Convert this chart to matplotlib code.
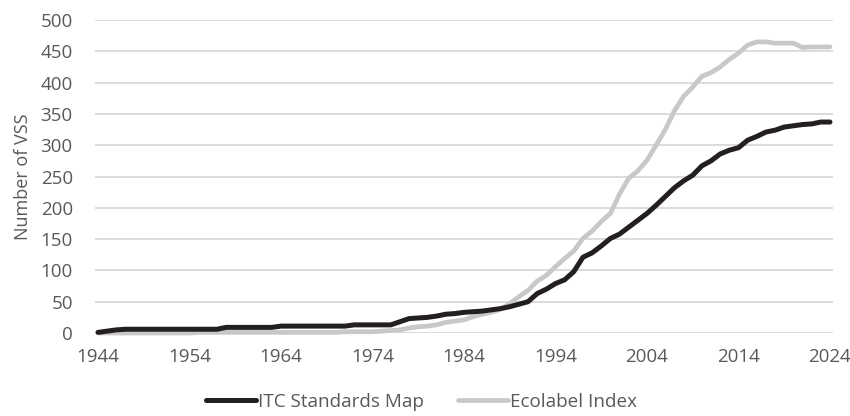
import matplotlib.pyplot as plt
import numpy as np

years = np.arange(1944, 2025)

itc = [1, 3, 5, 6, 6, 6, 6, 6, 6, 6,
       6, 6, 6, 6, 9, 9, 9, 9, 9, 9,
       11, 11, 11, 11, 11, 11, 11, 11, 13, 13,
       13, 13, 13, 18, 23, 24, 25, 27, 30, 31,
       33, 34, 35, 37, 39, 42, 46, 50, 63, 70,
       79, 85, 98, 121, 128, 139, 151, 158, 169, 180,
       191, 204, 218, 232, 243, 252, 267, 275, 286, 292,
       296, 308, 314, 321, 324, 329, 331, 333, 334, 337,
       337]

ecolabel = [0, 0, 0, 0, 0, 0, 0, 0, 0, 0,
            0, 1, 1, 1, 1, 1, 1, 1, 1, 1,
            1, 1, 1, 1, 1, 1, 1, 2, 2, 2,
            2, 3, 4, 5, 8, 10, 11, 13, 17, 19,
            21, 26, 30, 33, 38, 47, 58, 68, 83, 92,
            106, 119, 131, 151, 163, 178, 191, 222, 247, 259,
            276, 300, 325, 355, 378, 393, 410, 416, 425, 437,
            447, 460, 465, 465, 463, 463, 463, 456, 457, 457,
            457]

plt.rcParams['font.family'] = ['Open Sans', 'DejaVu Sans']
txt = '#595959'

fig = plt.figure(figsize=(8.5, 4.16), dpi=100)
ax = fig.add_axes([95/850, 1 - 333/416, (833 - 95)/850, (333 - 20)/416])

ax.plot(years, itc, color='#231f20', lw=3.6, label='ITC Standards Map',
        clip_on=False, solid_capstyle='round', zorder=3)
ax.plot(years, ecolabel, color='#c8c8c8', lw=3.4, label='Ecolabel Index',
        clip_on=False, solid_capstyle='round', zorder=2)

ax.set_xlim(1943.67, 2024.33)
ax.set_ylim(0, 500)
ax.set_xticks(np.arange(1944, 2025, 10))
ax.set_yticks(np.arange(0, 501, 50))
ax.grid(axis='y', color='#d9d9d9', lw=1.3)
ax.set_axisbelow(True)
for s in ax.spines.values():
    s.set_visible(False)
ax.tick_params(axis='both', length=0, labelsize=13.5, labelcolor=txt)
ax.tick_params(axis='y', pad=16)
ax.tick_params(axis='x', pad=11)
ax.set_ylabel('Number of VSS', fontsize=13, color=txt, labelpad=6)

fig.legend(loc='lower center', bbox_to_anchor=(0.4955, -0.028), ncol=2, frameon=False,
           fontsize=13.6, labelcolor=txt, handlelength=2.65, handletextpad=0.1,
           columnspacing=1.8)

fig.savefig('out.png', dpi=100)
